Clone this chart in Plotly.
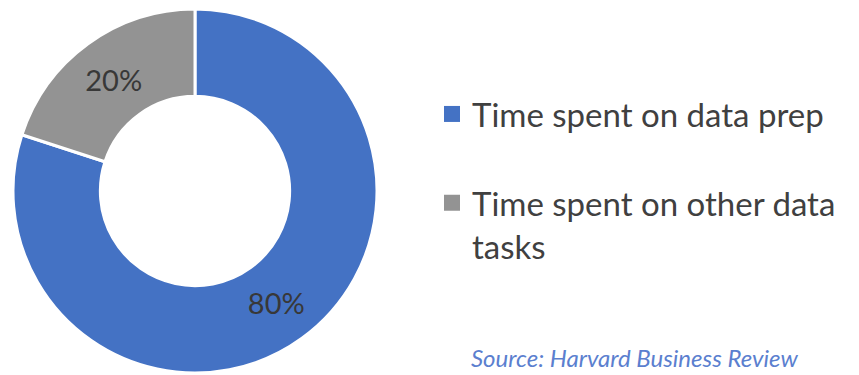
import plotly.graph_objects as go

labels = ["Time spent on data prep<br> ", "Time spent on other data<br>tasks"]
values = [80, 20]
colors = ["#4472C4", "#939393"]
source_text = "Source: Harvard Business Review"

W, H = 859, 375

fig = go.Figure(go.Pie(
    labels=labels,
    values=values,
    sort=False,
    direction="clockwise",
    rotation=0,
    hole=0.52,
    marker=dict(colors=colors, line=dict(color="white", width=3)),
    texttemplate="%{percent:.0%}",
    textposition="inside",
    insidetextorientation="horizontal",
    textfont=dict(family="Lato", size=29, color="#383838"),
    domain=dict(x=[12 / W, 378 / W], y=[1 - 373 / H, 1 - 9 / H]),
    showlegend=True,
    hoverinfo="skip",
))

fig.update_layout(
    width=W, height=H,
    margin=dict(l=0, r=0, t=0, b=0),
    paper_bgcolor="white",
    plot_bgcolor="white",
    font=dict(family="Lato", color="#404040"),
    legend=dict(
        x=432 / W, y=1 - 86 / H, xanchor="left", yanchor="top",
        font=dict(family="Lato", size=33, color="#404040"),
        valign="top",
        bgcolor="rgba(0,0,0,0)",
        itemclick=False, itemdoubleclick=False,
    ),
    annotations=[dict(
        text=source_text, x=469 / W, y=1 - 357 / H, xref="paper", yref="paper",
        xanchor="left", yanchor="middle", showarrow=False,
        font=dict(family="Lato", size=24, color="#5B7FCF", style="italic"),
    )],
)

# enlarge legend swatches to match the reference's filled squares
post = """
var gd = document.getElementsByClassName('plotly-graph-div')[0];
function fixSwatches(){
  gd.querySelectorAll('path.legendpie').forEach(function(p){
    p.setAttribute('d','M8,8H-8V-8H8Z');
    p.style.strokeWidth = '0px';
  });
}
fixSwatches();
gd.on('plotly_afterplot', fixSwatches);
"""

fig.write_html("out.html", post_script=post)
